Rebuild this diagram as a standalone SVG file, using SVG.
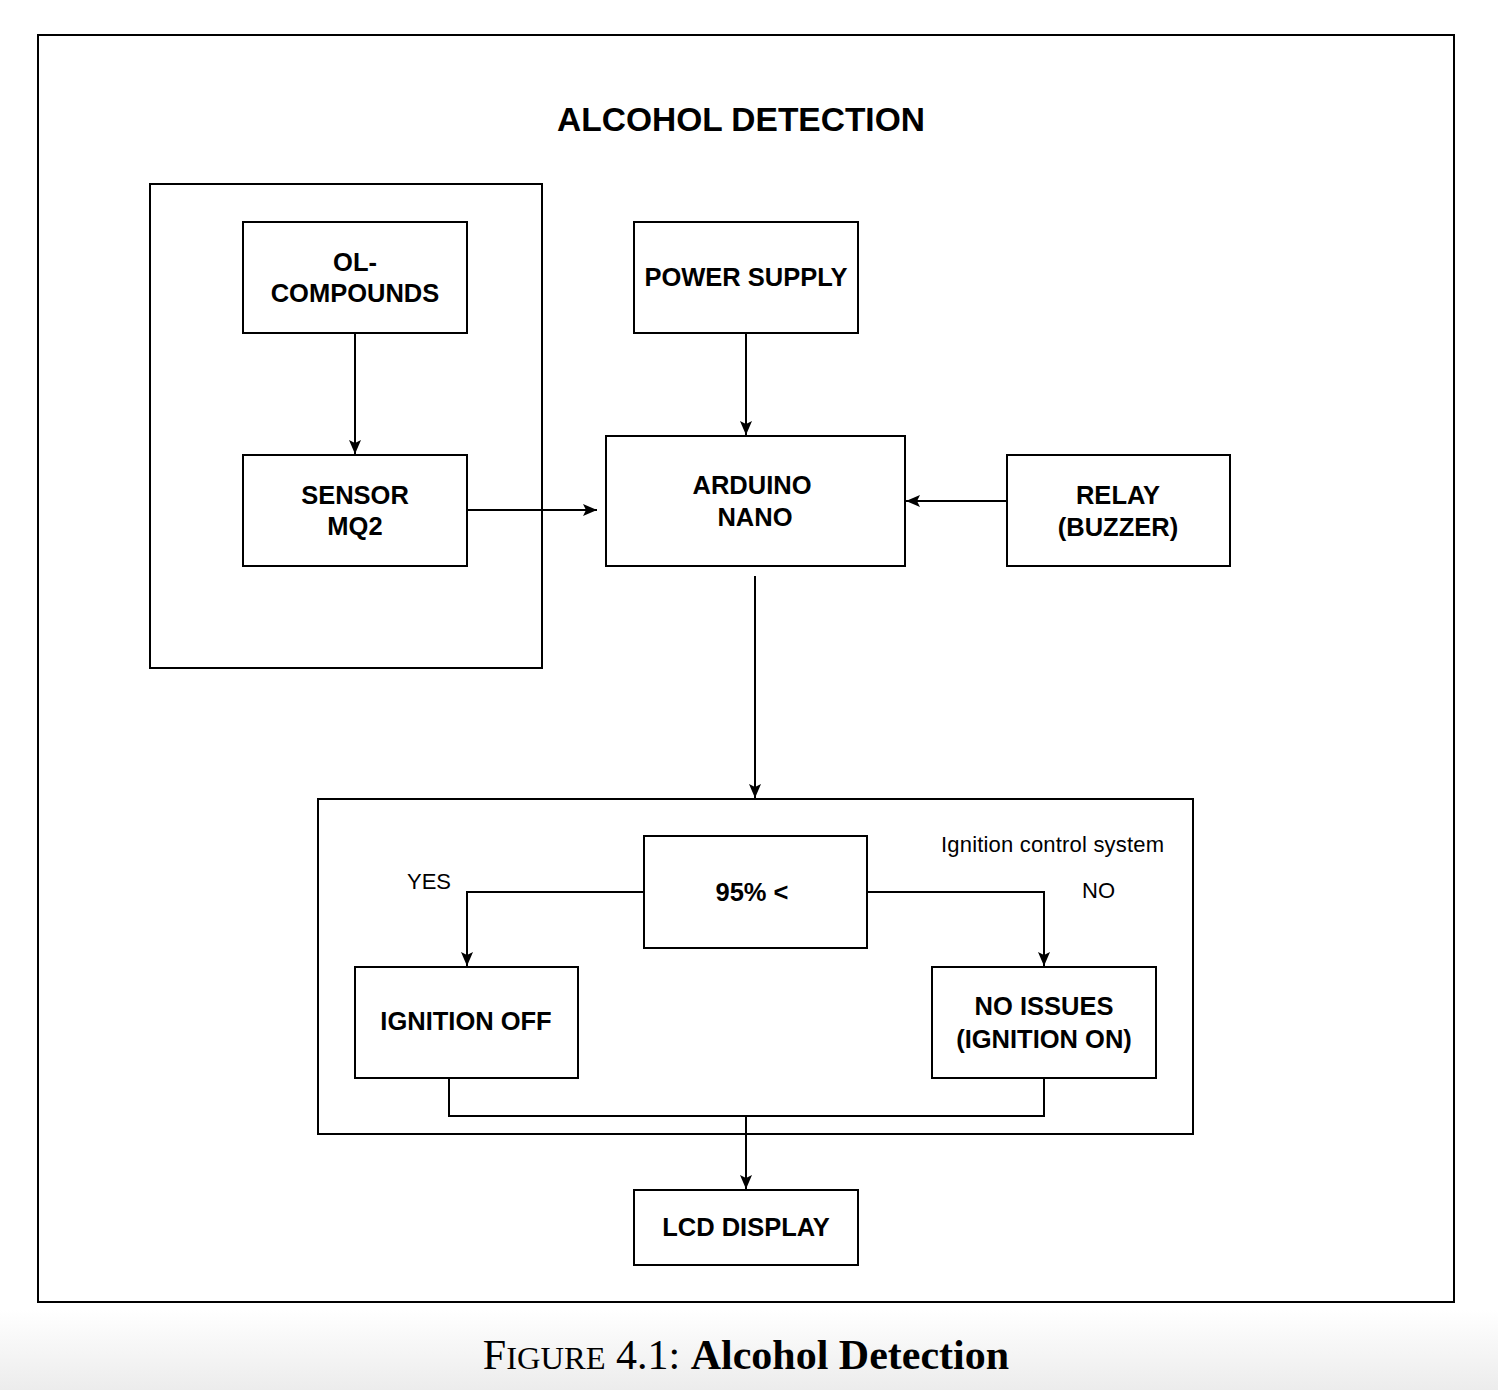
<svg xmlns="http://www.w3.org/2000/svg" width="1498" height="1390" viewBox="0 0 1498 1390">
<defs>
<linearGradient id="bg" x1="0" y1="0" x2="0" y2="1">
<stop offset="0" stop-color="#ffffff"/>
<stop offset="1" stop-color="#ececec"/>
</linearGradient>
<marker id="arr" markerWidth="16" markerHeight="14" viewBox="0 0 16 14" refX="15" refY="7" orient="auto" markerUnits="userSpaceOnUse">
<path d="M1,1 L15,7 L1,13 L4,7 Z" fill="#000"/>
</marker>
<style>
.box{fill:#fff;stroke:#000;stroke-width:2}
.frame{fill:none;stroke:#000;stroke-width:2}
.t{font-family:"Liberation Sans",Arial,Helvetica,sans-serif;font-weight:bold;font-size:25.5px;text-anchor:middle;fill:#000}
.l{font-family:"Liberation Sans",Arial,Helvetica,sans-serif;font-size:22px;fill:#000}
.c{fill:none;stroke:#000;stroke-width:2}
.ca{fill:none;stroke:#000;stroke-width:2;marker-end:url(#arr)}
</style>
</defs>
<rect x="0" y="0" width="1498" height="1390" fill="#fff"/>
<rect x="0" y="1310" width="1498" height="80" fill="url(#bg)"/>
<rect x="38" y="35" width="1416" height="1267" class="frame"/>
<text x="741" y="131" class="t" style="font-size:33.5px">ALCOHOL DETECTION</text>

<g id="sensor-group"><rect x="150" y="184" width="392" height="484" class="frame"/></g>
<g id="ignition-group"><rect x="318" y="799" width="875" height="335" class="frame"/>
<text x="941" y="852" class="l" textLength="223">Ignition control system</text></g>

<g id="connectors">
<line x1="355" y1="333" x2="355" y2="454" class="ca"/>
<line x1="467" y1="510" x2="597" y2="510" class="ca"/>
<line x1="746" y1="333" x2="746" y2="435" class="ca"/>
<line x1="1007" y1="501" x2="906" y2="501" class="ca"/>
<line x1="755" y1="576" x2="755" y2="798" class="ca"/>
<polyline points="644,892 467,892 467,966" class="ca"/>
<polyline points="867,892 1044,892 1044,966" class="ca"/>
<polyline points="449,1078 449,1116 1044,1116 1044,1078" class="c"/>
<line x1="746" y1="1116" x2="746" y2="1189" class="ca"/>
<text x="407" y="889" class="l">YES</text>
<text x="1082" y="898" class="l">NO</text>
</g>

<g id="ol-compounds"><rect x="243" y="222" width="224" height="111" class="box"/>
<text x="355" y="271" class="t">OL-</text><text x="355" y="302" class="t">COMPOUNDS</text></g>
<g id="sensor-mq2"><rect x="243" y="455" width="224" height="111" class="box"/>
<text x="355" y="504" class="t">SENSOR</text><text x="355" y="535" class="t">MQ2</text></g>
<g id="power-supply"><rect x="634" y="222" width="224" height="111" class="box"/>
<text x="746" y="286" class="t">POWER SUPPLY</text></g>
<g id="arduino-nano"><rect x="606" y="436" width="299" height="130" class="box"/>
<text x="752" y="494" class="t">ARDUINO</text><text x="755" y="526" class="t">NANO</text></g>
<g id="relay"><rect x="1007" y="455" width="223" height="111" class="box"/>
<text x="1118" y="504" class="t">RELAY</text><text x="1118" y="536" class="t">(BUZZER)</text></g>
<g id="threshold"><rect x="644" y="836" width="223" height="112" class="box"/>
<text x="752" y="901" class="t">95% &lt;</text></g>
<g id="ignition-off"><rect x="355" y="967" width="223" height="111" class="box"/>
<text x="466" y="1030" class="t">IGNITION OFF</text></g>
<g id="ignition-on"><rect x="932" y="967" width="224" height="111" class="box"/>
<text x="1044" y="1015" class="t">NO ISSUES</text><text x="1044" y="1048" class="t">(IGNITION ON)</text></g>
<g id="lcd-display"><rect x="634" y="1190" width="224" height="75" class="box"/>
<text x="746" y="1236" class="t">LCD DISPLAY</text></g>

<text x="746" y="1369" text-anchor="middle" style="font-family:'Liberation Serif','Times New Roman',serif;font-size:42px;fill:#000">F<tspan style="font-size:32.5px">IGURE</tspan> 4.1: <tspan font-weight="bold">Alcohol Detection</tspan></text>
</svg>
